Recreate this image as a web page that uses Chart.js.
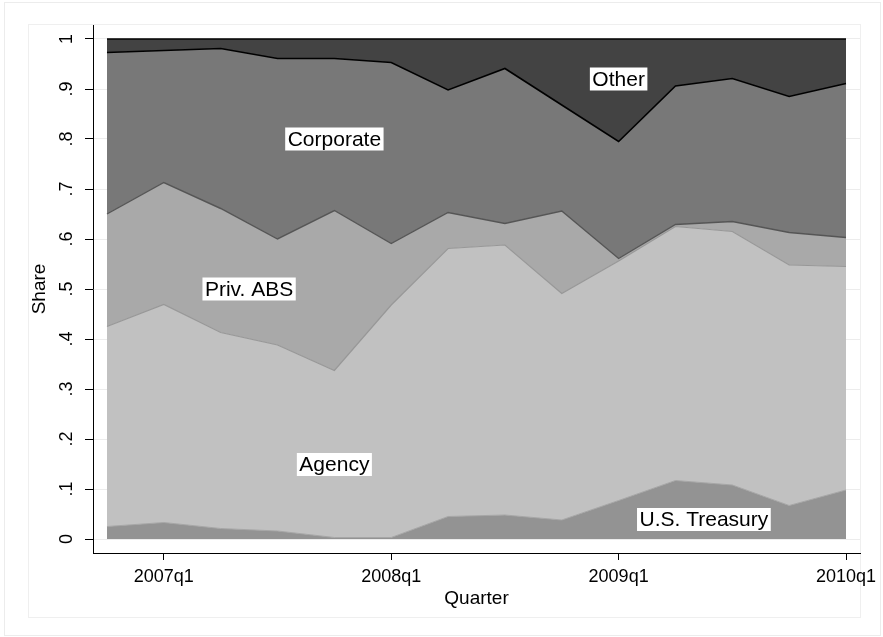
<!DOCTYPE html>
<html lang="en">
<head>
<meta charset="UTF-8">
<title>Share by quarter</title>
<script src="https://cdn.jsdelivr.net/npm/chart.js"></script>
<style>
  html, body { margin:0; padding:0; background:#fff; }
  #wrap { width:883px; height:637px; }
</style>
</head>
<body>
<div id="wrap"><canvas id="areaChart" width="883" height="637"></canvas></div>

<script>
/* ==== data ==== */
const quarters = ['2006q4','2007q1','2007q2','2007q3','2007q4','2008q1','2008q2',
                  '2008q3','2008q4','2009q1','2009q2','2009q3','2009q4','2010q1'];
const treasury  = [0.025,0.033,0.021,0.016,0.003,0.003,0.045,0.048,0.038,0.077,0.117,0.108,0.067,0.098];
const agency    = [0.400,0.436,0.392,0.372,0.334,0.465,0.536,0.540,0.453,0.479,0.508,0.507,0.481,0.447];
const privAbs   = [0.225,0.244,0.248,0.212,0.320,0.123,0.072,0.043,0.165,0.005,0.004,0.020,0.065,0.058];
const corporate = [0.323,0.264,0.320,0.361,0.304,0.362,0.245,0.310,0.212,0.234,0.277,0.286,0.272,0.308];
const other     = [0.027,0.023,0.019,0.039,0.039,0.047,0.102,0.059,0.132,0.205,0.094,0.079,0.115,0.089];

const xTickLabels = ['2007q1','2008q1','2009q1','2010q1'];
const yTicks      = [0,0.1,0.2,0.3,0.4,0.5,0.6,0.7,0.8,0.9,1];
const yTickLabels = ['0','.1','.2','.3','.4','.5','.6','.7','.8','.9','1'];

// text boxes inside the areas (quarter index, share)
const areaLabels = [
  {text:'Other',        q:9,    v:0.92},
  {text:'Corporate',    q:4,    v:0.80},
  {text:'Priv. ABS',    q:2.5,  v:0.50},
  {text:'Agency',       q:4,    v:0.149},
  {text:'U.S. Treasury',q:10.5, v:0.039}
];

const FONT = '"Liberation Sans", Arial, Helvetica, sans-serif';
const pts = arr => arr.map((y,i)=>({x:i, y}));

/* ==== extras drawn on top of the library axes ==== */
const decor = {
  id:'decor',
  beforeDraw(chart){
    const c = chart.ctx;
    c.save();
    c.fillStyle = '#fff';
    c.fillRect(0,0,chart.width,chart.height);
    c.strokeStyle = '#ececec';
    c.lineWidth = 1;
    c.strokeRect(4.5,2.5,876,633);
    c.strokeStyle = '#efefef';
    c.strokeRect(28.5,24.5,832,593);
    c.restore();
  },
  afterDraw(chart){
    const c = chart.ctx, xs = chart.scales.x, ys = chart.scales.y;
    c.save();
    c.fillStyle = '#000';
    c.font = '18px ' + FONT;
    c.textAlign = 'center';
    c.textBaseline = 'middle';
    // y tick labels, vertical
    yTicks.forEach((v,i)=>{
      c.save();
      c.translate(67, ys.getPixelForValue(v));
      c.rotate(-Math.PI/2);
      c.fillText(yTickLabels[i],0,0);
      c.restore();
    });
    // axis titles
    c.font = '19px ' + FONT;
    c.save();
    c.translate(40, ys.getPixelForValue(0.5));
    c.rotate(-Math.PI/2);
    c.fillText('Share',0,0);
    c.restore();
    c.fillText('Quarter', (xs.left+xs.right)/2, 599);

    // area labels on white boxes
    c.font = '21px ' + FONT;
    areaLabels.forEach(l=>{
      const x = xs.getPixelForValue(l.q), y = ys.getPixelForValue(l.v);
      const w = c.measureText(l.text).width + 5, h = 23;
      c.fillStyle = '#fff';
      c.fillRect(x-w/2, y-h/2, w, h);
      c.fillStyle = '#000';
      c.fillText(l.text, x, y+1);
    });
    c.restore();
  }
};

const ds = (label, arr, fill, bg, border, bw) => ({
  label, data:pts(arr), fill, backgroundColor:bg, borderColor:border, borderWidth:bw,
  pointRadius:0, tension:0
});

new Chart(document.getElementById('areaChart'), {
  type:'line',
  data:{
    datasets:[
      ds('U.S. Treasury', treasury,  'origin', '#939393', '#a6a6a6', 1),
      ds('Agency',        agency,    '-1',     '#c1c1c1', '#979797', 1.2),
      ds('Priv. ABS',     privAbs,   '-1',     '#a9a9a9', '#555555', 1.4),
      ds('Corporate',     corporate, '-1',     '#787878', '#000000', 1.6),
      ds('Other',         other,     '-1',     '#434343', '#000000', 1.6)
    ]
  },
  options:{
    responsive:false,
    animation:false,
    layout:{padding:{left:0, top:25, right:23, bottom:0}},
    plugins:{legend:{display:false}, tooltip:{enabled:false}},
    scales:{
      x:{
        type:'linear', min:-0.246, max:13.246,
        afterFit:s=>{ s.height = 84; },
        afterBuildTicks:s=>{ s.ticks = [1,5,9,13].map(v=>({value:v})); },
        grid:{drawOnChartArea:false, drawTicks:true, tickLength:7, tickColor:'#000'},
        border:{display:true, color:'#000', width:1},
        ticks:{
          autoSkip:false, maxRotation:0, minRotation:0, padding:6,
          color:'#000', font:{family:FONT, size:18},
          callback:v => xTickLabels[[1,5,9,13].indexOf(v)] ?? quarters[v]
        }
      },
      y:{
        stacked:true, min:-0.028, max:1.028,
        afterFit:s=>{ s.width = 93; },
        afterBuildTicks:s=>{ s.ticks = yTicks.map(v=>({value:v})); },
        grid:{color:'#ececec', lineWidth:1, drawTicks:true, tickLength:8, tickColor:'#000'},
        border:{display:true, color:'#000', width:1},
        ticks:{display:false}
      }
    }
  },
  plugins:[decor]
});
</script>
</body>
</html>
